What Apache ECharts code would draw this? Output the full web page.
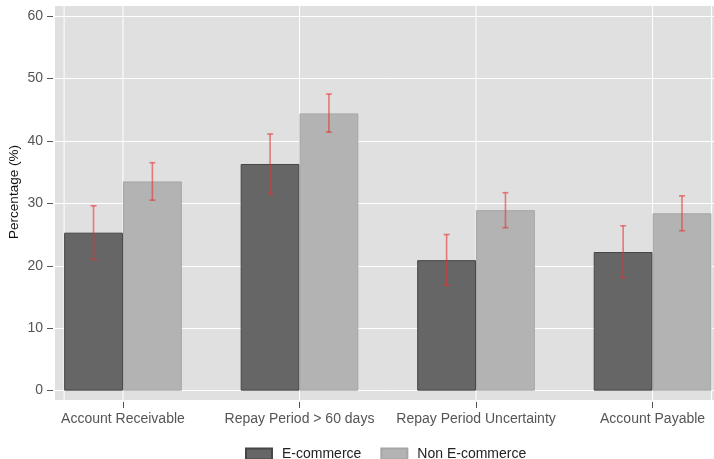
<!DOCTYPE html>
<html>
<head>
<meta charset="utf-8">
<script src="https://cdn.jsdelivr.net/npm/echarts@6/dist/echarts.min.js"></script>
<style>
  html, body { margin: 0; padding: 0; background: #ffffff; }
  #chart { width: 714px; height: 459px; }
</style>
</head>
<body>
<div id="chart"></div>
<script>
// Share of firms (%) by payment-terms indicator, with 95% confidence intervals
const categories = ['Account Receivable', 'Repay Period > 60 days', 'Repay Period Uncertainty', 'Account Payable'];
const seriesNames = ['E-commerce', 'Non E-commerce'];

const ecommerce      = [25.3, 36.3, 20.9, 22.2];
const ecommerceLow   = [21.0, 31.5, 16.9, 18.1];
const ecommerceHigh  = [29.6, 41.1, 25.0, 26.4];

const nonEcommerce     = [33.5, 44.4, 28.9, 28.4];
const nonEcommerceLow  = [30.5, 41.4, 26.1, 25.6];
const nonEcommerceHigh = [36.5, 47.5, 31.7, 31.2];

const yTicks = [0, 10, 20, 30, 40, 50, 60];

// Each bar takes a third of the spacing between category centres
const BAR_SHARE = 1 / 3;
const catIdx = categories.map((c, i) => i);
const vLines = [-BAR_SHARE].concat(catIdx, [categories.length - 1 + BAR_SHARE]);

const FONT = '"Liberation Sans", Arial, sans-serif';

function errorBarSeries(name, low, high, shift) {
  return {
    type: 'custom',
    name: name + ' CI',
    z: 5,
    silent: true,
    data: catIdx.map(i => [i, low[i], high[i]]),
    renderItem: function (params, api) {
      const x = api.value(0) + shift;
      const lo = api.coord([x, api.value(1)]);
      const hi = api.coord([x, api.value(2)]);
      const cap = 3;
      const style = { stroke: 'rgba(232, 50, 50, 0.6)', lineWidth: 1.6 };
      return {
        type: 'group',
        children: [
          { type: 'line', shape: { x1: lo[0], y1: lo[1], x2: hi[0], y2: hi[1] }, style: style },
          { type: 'line', shape: { x1: hi[0] - cap, y1: hi[1], x2: hi[0] + cap, y2: hi[1] }, style: style },
          { type: 'line', shape: { x1: lo[0] - cap, y1: lo[1], x2: lo[0] + cap, y2: lo[1] }, style: style }
        ]
      };
    }
  };
}

const chart = echarts.init(document.getElementById('chart'), null, { renderer: 'canvas' });

chart.setOption({
  animation: false,
  backgroundColor: '#ffffff',
  textStyle: { fontFamily: FONT },
  grid: {
    left: 55, right: 0, top: 6, bottom: 59,
    outerBoundsMode: 'none',
    containLabel: false,
    show: true, backgroundColor: '#e0e0e0', borderWidth: 0
  },
  legend: {
    data: seriesNames,
    left: 245, top: 447,
    padding: 0,
    icon: 'rect',
    itemWidth: 26, itemHeight: 11, itemGap: 19,
    textStyle: { fontSize: 14, color: '#222222', fontFamily: FONT, padding: [0, 0, 0, 5] }
  },
  xAxis: {
    type: 'value',
    min: -0.385, max: 3.348,
    offset: 2,
    axisLine: { show: false, onZero: false },
    splitLine: { show: false },
    axisTick: { show: true, customValues: catIdx, length: 6, lineStyle: { color: '#555555' } },
    axisLabel: {
      customValues: catIdx,
      formatter: v => categories[Math.round(v)],
      color: '#555555', fontSize: 14, margin: 10, fontFamily: FONT
    }
  },
  yAxis: {
    type: 'value',
    min: -1.5, max: 61.6,
    offset: 2,
    name: 'Percentage (%)',
    nameLocation: 'middle',
    nameGap: 32,
    nameMoveOverlap: false,
    nameTextStyle: { fontSize: 13.5, color: '#111111', fontFamily: FONT, padding: [0, 0, 0, 22] },
    axisLine: { show: false, onZero: false },
    axisTick: { show: true, customValues: yTicks, length: 6, lineStyle: { color: '#555555' } },
    axisLabel: { customValues: yTicks, color: '#555555', fontSize: 14, margin: 10, fontFamily: FONT },
    splitLine: { show: true, lineStyle: { color: '#ffffff', width: 1 } }
  },
  series: [
    {
      // vertical reference lines behind the bars
      type: 'custom',
      name: 'vgrid',
      z: 1,
      silent: true,
      data: vLines,
      renderItem: function (params, api) {
        const p = api.coord([api.value(0), 0]);
        const cs = params.coordSys;
        return {
          type: 'line',
          shape: { x1: p[0], y1: cs.y, x2: p[0], y2: cs.y + cs.height },
          style: { stroke: '#ffffff', lineWidth: 1 }
        };
      }
    },
    {
      type: 'bar',
      name: seriesNames[0],
      z: 2,
      barWidth: '33.33%',
      barGap: '0%',
      data: catIdx.map(i => [i, ecommerce[i]]),
      itemStyle: { color: '#666666', borderColor: '#464646', borderWidth: 1 }
    },
    {
      type: 'bar',
      name: seriesNames[1],
      z: 2,
      barWidth: '33.33%',
      barGap: '0%',
      data: catIdx.map(i => [i, nonEcommerce[i]]),
      itemStyle: { color: '#b3b3b3', borderColor: '#a6a6a6', borderWidth: 1 }
    },
    errorBarSeries(seriesNames[0], ecommerceLow, ecommerceHigh, -BAR_SHARE / 2),
    errorBarSeries(seriesNames[1], nonEcommerceLow, nonEcommerceHigh, BAR_SHARE / 2)
  ]
});
</script>
</body>
</html>
